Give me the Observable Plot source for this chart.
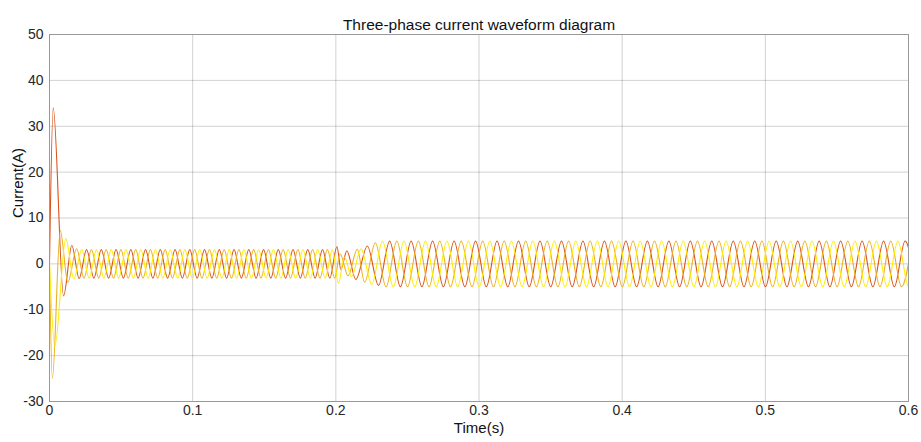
<!DOCTYPE html>
<html>
<head>
<meta charset="utf-8">
<script src="https://cdn.jsdelivr.net/npm/d3@7"></script>
<script src="https://cdn.jsdelivr.net/npm/@observablehq/plot@0.6"></script>
<style>
  html, body { margin: 0; padding: 0; background: #fff; }
</style>
</head>
<body>
<div id="chart"></div>
<script>
const titleText = "Three-phase current waveform diagram";
const xLabel = "Time(s)";
const yLabel = "Current(A)";
const xTicks = [0, 0.1, 0.2, 0.3, 0.4, 0.5, 0.6];
const yTicks = [-30, -20, -10, 0, 10, 20, 30, 40, 50];
const phaseNames = ["Phase A", "Phase B", "Phase C"];
const phaseColors = ["#D95319", "#EDB120", "#FFEE00"];

// Extrema (time s, current A) for each phase
const phaseA = [
  [0,0],[0.0026,34],[0.0098,-7],[0.0156,4],[0.0207,-3.2],
  [0.0259,3.1],[0.0310,-3.1],[0.0362,3.1],[0.0413,-3.1],[0.0465,3.1],[0.0516,-3.1],[0.0568,3.1],[0.0619,-3.1],
  [0.0671,3.1],[0.0722,-3.1],[0.0774,3.1],[0.0825,-3.1],[0.0877,3.1],[0.0928,-3.1],[0.0980,3.1],[0.1031,-3.1],
  [0.1083,3.1],[0.1134,-3.1],[0.1186,3.1],[0.1237,-3.1],[0.1289,3.1],[0.1340,-3.1],[0.1392,3.1],[0.1443,-3.1],
  [0.1495,3.1],[0.1546,-3.1],[0.1598,3.1],[0.1649,-3.1],[0.1701,3.1],[0.1752,-3.1],[0.1804,3.1],[0.1855,-3.1],
  [0.1907,3.1],[0.1958,-3.1],[0.2008,3.8],[0.2035,-1.2],[0.2077,2.8],[0.2140,-3.4],[0.2220,3.9],[0.2298,-4.7],
  [0.2376,5],[0.2451,-5],[0.2526,5],[0.2601,-5],[0.2676,5],[0.2751,-5],[0.2826,5],[0.2901,-5],[0.2976,5],[0.3051,-5],
  [0.3126,5],[0.3201,-5],[0.3276,5],[0.3351,-5],[0.3426,5],[0.3501,-5],[0.3576,5],[0.3651,-5],[0.3726,5],[0.3801,-5],
  [0.3876,5],[0.3951,-5],[0.4026,5],[0.4101,-5],[0.4176,5],[0.4251,-5],[0.4326,5],[0.4401,-5],[0.4476,5],[0.4551,-5],
  [0.4626,5],[0.4701,-5],[0.4776,5],[0.4851,-5],[0.4926,5],[0.5001,-5],[0.5076,5],[0.5151,-5],[0.5226,5],[0.5301,-5],
  [0.5376,5],[0.5451,-5],[0.5526,5],[0.5601,-5],[0.5676,5],[0.5751,-5],[0.5826,5],[0.5901,-5],[0.5976,5],[0.6051,-5]
];
const phaseB = [
  [0,0],[0.0020,-25],[0.0075,7.3],[0.0128,-4],[0.0190,3.3],[0.0241,-3.1],
  [0.0293,3.1],[0.0344,-3.1],[0.0396,3.1],[0.0447,-3.1],[0.0499,3.1],[0.0550,-3.1],[0.0602,3.1],[0.0653,-3.1],
  [0.0705,3.1],[0.0756,-3.1],[0.0808,3.1],[0.0859,-3.1],[0.0911,3.1],[0.0962,-3.1],[0.1014,3.1],[0.1065,-3.1],
  [0.1117,3.1],[0.1168,-3.1],[0.1220,3.1],[0.1271,-3.1],[0.1323,3.1],[0.1374,-3.1],[0.1426,3.1],[0.1477,-3.1],
  [0.1529,3.1],[0.1580,-3.1],[0.1632,3.1],[0.1683,-3.1],[0.1735,3.1],[0.1786,-3.1],[0.1838,3.1],[0.1889,-3.1],
  [0.1941,3.1],[0.1992,-3.1],[0.2030,2.2],[0.2085,-2.6],[0.2150,3.2],[0.2201,-4.0],[0.2276,4.6],[0.2351,-5],
  [0.2426,5],[0.2501,-5],[0.2576,5],[0.2651,-5],[0.2726,5],[0.2801,-5],[0.2876,5],[0.2951,-5],[0.3026,5],[0.3101,-5],
  [0.3176,5],[0.3251,-5],[0.3326,5],[0.3401,-5],[0.3476,5],[0.3551,-5],[0.3626,5],[0.3701,-5],[0.3776,5],[0.3851,-5],
  [0.3926,5],[0.4001,-5],[0.4076,5],[0.4151,-5],[0.4226,5],[0.4301,-5],[0.4376,5],[0.4451,-5],[0.4526,5],[0.4601,-5],
  [0.4676,5],[0.4751,-5],[0.4826,5],[0.4901,-5],[0.4976,5],[0.5051,-5],[0.5126,5],[0.5201,-5],[0.5276,5],[0.5351,-5],
  [0.5426,5],[0.5501,-5],[0.5576,5],[0.5651,-5],[0.5726,5],[0.5801,-5],[0.5876,5],[0.5951,-5],[0.6026,5]
];
const phaseC = [
  [0,0],[0.0037,-18],[0.0114,5.5],[0.0170,-3.3],[0.0225,3.1],
  [0.0277,-3.1],[0.0328,3.1],[0.0380,-3.1],[0.0431,3.1],[0.0483,-3.1],[0.0534,3.1],[0.0586,-3.1],[0.0637,3.1],
  [0.0689,-3.1],[0.0740,3.1],[0.0792,-3.1],[0.0843,3.1],[0.0895,-3.1],[0.0946,3.1],[0.0998,-3.1],[0.1049,3.1],
  [0.1101,-3.1],[0.1152,3.1],[0.1204,-3.1],[0.1255,3.1],[0.1307,-3.1],[0.1358,3.1],[0.1410,-3.1],[0.1461,3.1],
  [0.1513,-3.1],[0.1564,3.1],[0.1616,-3.1],[0.1667,3.1],[0.1719,-3.1],[0.1770,3.1],[0.1822,-3.1],[0.1873,3.1],
  [0.1925,-3.1],[0.1976,3.1],[0.2018,-4.2],[0.2060,1.5],[0.2110,-2.8],[0.2176,3.3],[0.2251,-4.5],[0.2326,5],
  [0.2401,-5],[0.2476,5],[0.2551,-5],[0.2626,5],[0.2701,-5],[0.2776,5],[0.2851,-5],[0.2926,5],[0.3001,-5],[0.3076,5],
  [0.3151,-5],[0.3226,5],[0.3301,-5],[0.3376,5],[0.3451,-5],[0.3526,5],[0.3601,-5],[0.3676,5],[0.3751,-5],[0.3826,5],
  [0.3901,-5],[0.3976,5],[0.4051,-5],[0.4126,5],[0.4201,-5],[0.4276,5],[0.4351,-5],[0.4426,5],[0.4501,-5],[0.4576,5],
  [0.4651,-5],[0.4726,5],[0.4801,-5],[0.4876,5],[0.4951,-5],[0.5026,5],[0.5101,-5],[0.5176,5],[0.5251,-5],[0.5326,5],
  [0.5401,-5],[0.5476,5],[0.5551,-5],[0.5626,5],[0.5701,-5],[0.5776,5],[0.5851,-5],[0.5926,5],[0.6001,-5],[0.6076,5]
];

const series = [phaseA, phaseB, phaseC];
const rows = series.flatMap((pts, i) => pts.map(([t, v]) => ({phase: phaseNames[i], t, v})));

const chart = Plot.plot({
  width: 921,
  height: 442,
  marginTop: 34,
  marginBottom: 41,
  marginLeft: 49,
  marginRight: 13,
  style: {fontFamily: "'Liberation Sans', Arial, Helvetica, sans-serif", fontSize: "14px", color: "#262626", background: "#fff"},
  x: {domain: [0, 0.6]},
  y: {domain: [-30, 50]},
  color: {domain: phaseNames, range: phaseColors},
  marks: [
    Plot.gridX(xTicks, {stroke: "#000", strokeOpacity: 0.18}),
    Plot.gridY(yTicks, {stroke: "#000", strokeOpacity: 0.18}),
    Plot.line(rows, {x: "t", y: "v", z: "phase", stroke: "phase", curve: "monotone-x", strokeWidth: 1.1, clip: true}),
    Plot.axisX(xTicks, {tickSize: 0, tickPadding: 4, label: null, fontSize: 14, tickFormat: d => String(d)}),
    Plot.axisY(yTicks, {tickSize: 0, tickPadding: 6, label: null, fontSize: 14, tickFormat: d => String(d)}),
    Plot.frame({stroke: "#999"}),
    Plot.text([titleText], {frameAnchor: "top", dy: -16, fontSize: 15.5, fill: "#111"}),
    Plot.text([xLabel], {frameAnchor: "bottom", dy: 31, fontSize: 15, fill: "#111"}),
    Plot.text([yLabel], {frameAnchor: "left", dx: -31, rotate: -90, fontSize: 15, fill: "#111"})
  ]
});
document.getElementById("chart").appendChild(chart);
</script>
</body>
</html>
